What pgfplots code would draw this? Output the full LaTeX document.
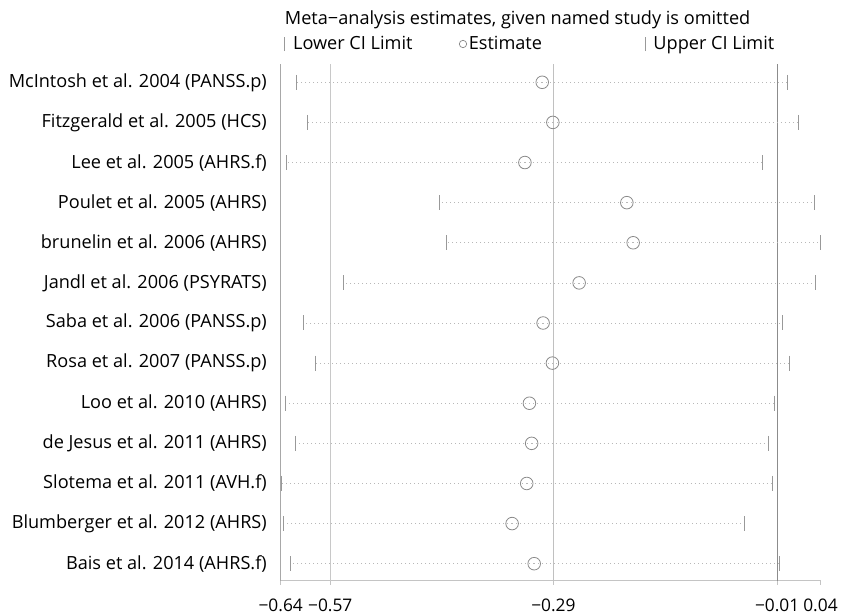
\documentclass[border=0pt]{standalone}
\usepackage{fontspec}
\setmainfont{Open Sans}
\usepackage{pgfplots}
\usepackage{pgfplotstable}
\pgfplotsset{compat=1.18}
\definecolor{gridA}{HTML}{C8C8C8}
\definecolor{gridE}{HTML}{C0C0C0}
\definecolor{gridU}{HTML}{8C8C8C}
\definecolor{axisX}{HTML}{C4C4C4}
\definecolor{axisY}{HTML}{A8A8A8}
\definecolor{dotc}{HTML}{B8B8B8}
\definecolor{cimark}{HTML}{999999}
\definecolor{estc}{HTML}{8A8A8A}
\pgfplotstableread{
row lo est hi
1 -0.6163 -0.3072 0.0019
2 -0.6029 -0.2938 0.0149
3 -0.6294 -0.3290 -0.0295
4 -0.4369 -0.2007 0.0350
5 -0.4280 -0.1927 0.0431
6 -0.5576 -0.2607 0.0363
7 -0.6080 -0.3061 -0.0044
8 -0.5929 -0.2944 0.0036
9 -0.6306 -0.3233 -0.0153
10 -0.6180 -0.3205 -0.0229
11 -0.6360 -0.3267 -0.0178
12 -0.6335 -0.3451 -0.0531
13 -0.6243 -0.3173 -0.0090
}\metadata
\newcommand{\lbl}{\fontsize{18.2}{21}\selectfont}
\begin{document}
\begin{tikzpicture}
\begin{axis}[
  scale only axis, width=539.8bp, height=516.7bp,
  xmin=-0.6364, xmax=0.0431, ymin=0.544, ymax=13.424, y dir=reverse,
  clip=false,
  axis x line*=bottom, axis y line*=left,
  x axis line style={draw=axisX, line width=0.8bp, -},
  y axis line style={draw=axisY, line width=0.8bp, -},
  xtick={-0.6364,-0.574,-0.2931,-0.0115,0.0431},
  xticklabels={−0.64,−0.57,−0.29,−0.01,0.04},
  xtick align=outside,
  x tick style={draw=axisX, line width=0.8bp},
  major tick length=4bp,
  ytick={1,2,3,4,5,6,7,8,9,10,11,12,13},
  yticklabels={McIntosh et al. 2004 (PANSS.p),Fitzgerald et al. 2005 (HCS),Lee et al. 2005 (AHRS.f),Poulet et al. 2005 (AHRS),brunelin et al. 2006 (AHRS),Jandl et al. 2006 (PSYRATS),Saba et al. 2006 (PANSS.p),Rosa et al. 2007 (PANSS.p),Loo et al. 2010 (AHRS),de Jesus et al. 2011 (AHRS),Slotema et al. 2011 (AVH.f),Blumberger et al. 2012 (AHRS),Bais et al. 2014 (AHRS.f)},
  y tick style={draw=none},
  tick label style={font=\lbl, text=black},
  yticklabel style={inner sep=0pt, xshift=-13.7bp},
  xticklabel style={inner sep=0pt, anchor=north, yshift=-14bp, font=\fontsize{17.4}{20}\selectfont},
  legend columns=3,
  legend cell align=left,
  legend style={at={(axis description cs:0,1)}, anchor=west, xshift=2.3bp, yshift=20bp,
    draw=none, fill=none, inner sep=0pt, outer sep=0pt, font=\lbl,
    /tikz/column sep=0pt, nodes={inner sep=0pt, outer sep=0pt}},
]
\addplot[forget plot, draw=gridA, line width=0.8bp] coordinates {(-0.574,0.544) (-0.574,13.424)};
\addplot[forget plot, draw=gridE, line width=1.5bp] coordinates {(-0.2931,0.544) (-0.2931,13.424)};
\addplot[forget plot, draw=gridU, line width=0.8bp] coordinates {(-0.0115,0.544) (-0.0115,13.424)};
\addplot[forget plot, draw=none, mark=none,
  error bars/.cd, x dir=both, x explicit, error mark=none,
  error bar style={draw=dotc, line width=0.7bp, dash pattern=on 0.8bp off 3.2bp}]
  table[x=est, y=row, x error plus expr=\thisrow{hi}-\thisrow{est}, x error minus expr=\thisrow{est}-\thisrow{lo}] {\metadata};
\addplot[only marks, mark=|, mark size=7.5bp, mark options={draw=cimark, line width=0.9bp},
  legend image code/.code={\draw[cimark, line width=0.9bp] (0bp,-7bp) -- (0bp,7bp); \path (-1bp,0bp) (8.7bp,0bp);}]
  table[x=lo, y=row] {\metadata};
\addlegendentry{\makebox[165bp][l]{Lower CI Limit}}
\addplot[only marks, mark=o, mark size=6.3bp, mark options={draw=estc, fill=white, line width=0.8bp},
  legend image code/.code={\draw[estc, line width=0.7bp] (0bp,0bp) circle (3.7bp); \path (-4.7bp,0bp) (5.6bp,0bp);}]
  table[x=est, y=row] {\metadata};
\addlegendentry{\makebox[175.6bp][l]{Estimate}}
\addplot[only marks, mark=|, mark size=7.5bp, mark options={draw=cimark, line width=0.9bp},
  legend image code/.code={\draw[cimark, line width=0.9bp] (0bp,-7bp) -- (0bp,7bp); \path (-1bp,0bp) (7.7bp,0bp);}]
  table[x=hi, y=row] {\metadata};
\addlegendentry{Upper CI Limit}
\node[anchor=base west, inner sep=0pt, font=\lbl, xshift=4bp, yshift=40bp] at (axis description cs:0,1) {Meta−analysis estimates, given named study is omitted};
\end{axis}
\pgfresetboundingbox
\path[use as bounding box] (-280.7bp,-33.3bp) rectangle (563.3bp,580.7bp);
\end{tikzpicture}
\end{document}
